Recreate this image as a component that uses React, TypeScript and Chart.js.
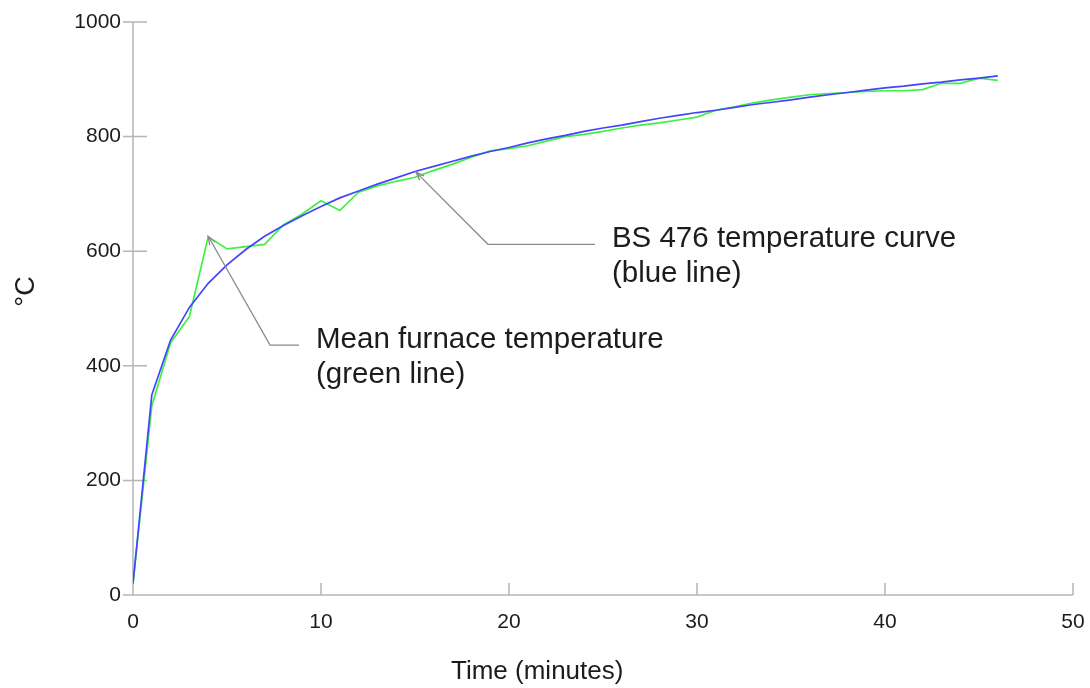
import React, { useEffect, useRef } from "react";
import { Chart, registerables } from "chart.js";

Chart.register(...registerables);

// ---- data ----
const minutes = [
  0, 1, 2, 3, 4, 5, 6, 7, 8, 9, 10, 11, 12, 13, 14, 15, 16, 17, 18, 19, 20, 21, 22, 23,
  24, 25, 26, 27, 28, 29, 30, 31, 32, 33, 34, 35, 36, 37, 38, 39, 40, 41, 42, 43, 44, 45, 46,
];
const bs476Curve = [
  20, 349, 445, 502, 544, 576, 603, 626, 645, 662, 678, 693, 705, 717, 728, 739, 748, 757,
  766, 774, 781, 789, 796, 802, 809, 815, 820, 826, 832, 837, 842, 846, 851, 856, 860, 864,
  869, 873, 877, 881, 885, 888, 892, 895, 899, 902, 906,
];
const furnaceMean = [
  20, 330, 440, 486, 625, 604, 608, 612, 646, 665, 688, 671, 703, 714, 722, 729, 741, 752,
  764, 775, 779, 784, 792, 800, 804, 809, 815, 820, 824, 829, 834, 846, 852, 859, 864, 869,
  873, 875, 877, 879, 880, 880, 882, 893, 893, 902, 898,
];
const xTickValues = [0, 10, 20, 30, 40, 50];
const yTickValues = [0, 200, 400, 600, 800, 1000];

const xTitle = "Time (minutes)";
const yTitle = "°C";

// callouts: text lines, arrow tip, elbow and end of the leader (in data units)
const calloutTexts = [
  ["BS 476 temperature curve", "(blue line)"],
  ["Mean furnace temperature", "(green line)"],
];
const calloutTips = [
  [15.05, 738],
  [4.0, 626],
];
const calloutElbows = [
  [18.88, 612],
  [7.29, 436],
];
const calloutEnds = [
  [24.57, 612],
  [8.83, 436],
];

const FONT = '"Liberation Sans", Arial, Helvetica, sans-serif';
const AXIS_GREY = "#b5b5b5";
const TEXT = "#1c1c1c";

const axesPlugin = {
  id: "customAxes",
  beforeDatasetsDraw(chart: any) {
    const { ctx } = chart;
    const xs = chart.scales.x;
    const ys = chart.scales.y;
    const x0 = xs.getPixelForValue(0);
    const x1 = xs.getPixelForValue(50);
    const y0 = ys.getPixelForValue(0);
    const y1 = ys.getPixelForValue(1000);
    ctx.save();
    ctx.strokeStyle = AXIS_GREY;
    ctx.lineWidth = 1.5;
    ctx.beginPath();
    ctx.moveTo(x0, y1);
    ctx.lineTo(x0, y0);
    ctx.moveTo(x0, y0);
    ctx.lineTo(x1, y0);
    yTickValues.forEach((v) => {
      const y = ys.getPixelForValue(v);
      ctx.moveTo(x0 - 10, y);
      ctx.lineTo(x0 + 14, y);
    });
    xTickValues.forEach((v) => {
      if (v === 0) return;
      const x = xs.getPixelForValue(v);
      ctx.moveTo(x, y0);
      ctx.lineTo(x, y0 - 12);
    });
    ctx.stroke();

    ctx.fillStyle = TEXT;
    ctx.textAlign = "center";
    ctx.textBaseline = "middle";

    // x axis title (sits left of the plot centre in the reference)
    ctx.font = `26px ${FONT}`;
    ctx.fillText(xTitle, xs.getPixelForValue(21.5), 672);

    // y axis title
    ctx.font = `27px ${FONT}`;
    ctx.translate(27, (y0 + y1) / 2 - 17);
    ctx.rotate(-Math.PI / 2);
    ctx.fillText(yTitle, 0, 0);
    ctx.restore();
  },
};

const calloutPlugin = {
  id: "callouts",
  afterDatasetsDraw(chart: any) {
    const { ctx } = chart;
    const xs = chart.scales.x;
    const ys = chart.scales.y;
    ctx.save();
    calloutTexts.forEach((lines, i) => {
      const tx = xs.getPixelForValue(calloutTips[i][0]);
      const ty = ys.getPixelForValue(calloutTips[i][1]);
      const ex = xs.getPixelForValue(calloutElbows[i][0]);
      const ey = ys.getPixelForValue(calloutElbows[i][1]);
      const hx = xs.getPixelForValue(calloutEnds[i][0]);
      const hy = ys.getPixelForValue(calloutEnds[i][1]);
      ctx.strokeStyle = "#8a8a8a";
      ctx.lineWidth = 1.3;
      ctx.beginPath();
      ctx.moveTo(tx, ty);
      ctx.lineTo(ex, ey);
      ctx.lineTo(hx, hy);
      ctx.stroke();
      // arrow head
      const ang = Math.atan2(ey - ty, ex - tx);
      const len = 9;
      ctx.beginPath();
      ctx.moveTo(tx + len * Math.cos(ang - 0.35), ty + len * Math.sin(ang - 0.35));
      ctx.lineTo(tx, ty);
      ctx.lineTo(tx + len * Math.cos(ang + 0.35), ty + len * Math.sin(ang + 0.35));
      ctx.stroke();
      // text
      ctx.fillStyle = TEXT;
      ctx.font = `29.5px ${FONT}`;
      ctx.textAlign = "left";
      ctx.textBaseline = "middle";
      lines.forEach((line, j) => {
        ctx.fillText(line, hx + 17, hy - 5 + j * 35);
      });
    });
    ctx.restore();
  },
};

export default function App() {
  const canvasRef = useRef<HTMLCanvasElement | null>(null);

  useEffect(() => {
    const canvas = canvasRef.current;
    if (!canvas) return;
    const chart = new Chart(canvas, {
      type: "line",
      data: {
        datasets: [
          {
            label: "BS 476 temperature curve",
            data: minutes.map((t, i) => ({ x: t, y: bs476Curve[i] })),
            borderColor: "#4444ff",
            borderWidth: 1.7,
            pointRadius: 0,
            tension: 0,
            fill: false,
            order: 0,
          },
          {
            label: "Mean furnace temperature",
            data: minutes.map((t, i) => ({ x: t, y: furnaceMean[i] })),
            borderColor: "#40f040",
            borderWidth: 1.7,
            pointRadius: 0,
            tension: 0,
            fill: false,
            order: 1,
          },
        ],
      },
      options: {
        responsive: false,
        animation: false,
        events: [],
        layout: { padding: { left: 0, right: 17, top: 22, bottom: 0 } },
        plugins: {
          legend: { display: false },
          tooltip: { enabled: false },
          title: { display: false },
        },
        scales: {
          x: {
            type: "linear",
            min: 0,
            max: 50,
            grid: { display: false, drawTicks: false },
            border: { display: false },
            afterBuildTicks: (scale: any) => {
              scale.ticks = xTickValues.map((v) => ({ value: v }));
            },
            afterFit: (scale: any) => {
              scale.height = 93;
              scale.paddingLeft = 0;
              scale.paddingRight = 0;
            },
            ticks: {
              padding: 15,
              color: TEXT,
              font: { family: FONT, size: 21 },
              callback: (v: any) => String(v),
            },
          },
          y: {
            type: "linear",
            min: 0,
            max: 1000,
            grid: { display: false, drawTicks: false },
            border: { display: false },
            afterBuildTicks: (scale: any) => {
              scale.ticks = yTickValues.map((v) => ({ value: v }));
            },
            afterFit: (scale: any) => {
              scale.width = 133;
              scale.paddingTop = 0;
              scale.paddingBottom = 0;
            },
            ticks: {
              padding: 12,
              color: TEXT,
              font: { family: FONT, size: 21 },
              callback: (v: any) => String(v),
            },
          },
        },
      },
      plugins: [axesPlugin, calloutPlugin],
    });
    return () => chart.destroy();
  }, []);

  return (
    <div style={{ position: "absolute", left: 0, top: 0, width: 1090, height: 688, background: "#fff" }}>
      <canvas ref={canvasRef} width={1090} height={688} />
    </div>
  );
}
